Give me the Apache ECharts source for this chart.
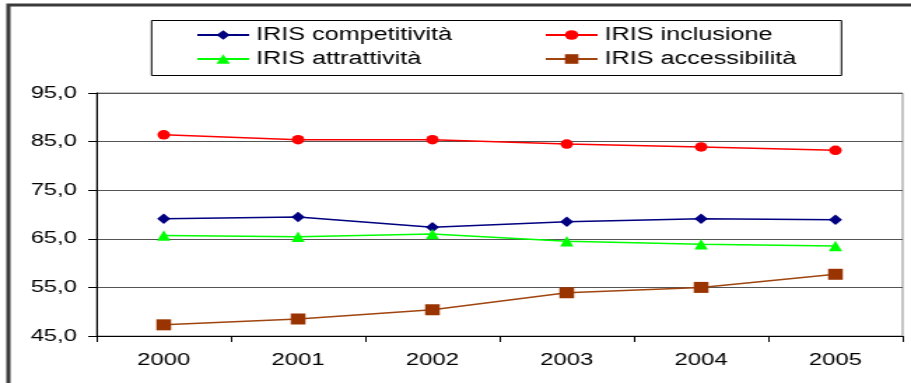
<!DOCTYPE html>
<html>
<head>
<meta charset="utf-8">
<script src="https://cdn.jsdelivr.net/npm/echarts@6/dist/echarts.min.js"></script>
<style>
  html, body { margin: 0; padding: 0; background: #fff; overflow: hidden; }
  /* the chart is laid out narrow and widened horizontally for its wide-lettered look */
  #chart {
    width: 651px; height: 383px;
    transform: scaleX(1.3994); transform-origin: 0 0;
  }
</style>
</head>
<body>
<div id="chart"></div>
<script>
// Years on the horizontal axis
const years = ['2000', '2001', '2002', '2003', '2004', '2005'];

// IRIS index values per year
const competitivita = [69.1, 69.5, 67.4, 68.5, 69.1, 68.9];
const inclusione = [86.4, 85.4, 85.4, 84.5, 83.9, 83.2];
const attrattivita = [65.7, 65.4, 66.0, 64.5, 63.9, 63.5];
const accessibilita = [47.3, 48.5, 50.4, 53.9, 55.0, 57.7];

const seriesNames = ['IRIS competitività', 'IRIS inclusione', 'IRIS attrattività', 'IRIS accessibilità'];

const FONT = 'Liberation Sans, Arial, sans-serif';

function lineSeries(name, data, color, symbol, size, lineColor) {
  return {
    name: name,
    type: 'line',
    data: data,
    symbol: symbol,
    symbolSize: size,
    showSymbol: true,
    animation: false,
    itemStyle: { color: color, borderWidth: 0 },
    lineStyle: { color: lineColor || color, width: 1.5 }
  };
}

const legendText = { fontFamily: FONT, fontSize: 18, color: '#000' };

const chart = echarts.init(document.getElementById('chart'), null, { renderer: 'canvas' });

chart.setOption({
  backgroundColor: '#ffffff',
  animation: false,
  grid: {
    left: 69, right: 6, top: 93, bottom: 47,
    show: true, borderColor: '#8c8c8c', borderWidth: 1
  },
  legend: [
    {
      data: [seriesNames[0], seriesNames[2]],
      orient: 'vertical',
      left: 135, top: 21,
      itemWidth: 37, itemHeight: 12, itemGap: 6,
      textStyle: legendText
    },
    {
      data: [seriesNames[1], seriesNames[3]],
      orient: 'vertical',
      left: 384, top: 21,
      itemWidth: 37, itemHeight: 12, itemGap: 6,
      textStyle: legendText
    }
  ],
  xAxis: {
    type: 'category',
    data: years,
    boundaryGap: true,
    axisLine: { lineStyle: { color: '#000', width: 1 } },
    axisTick: { show: true, length: 6, lineStyle: { color: '#000' } },
    axisLabel: { fontFamily: FONT, fontSize: 17, color: '#000', margin: 16 },
    splitLine: { show: false }
  },
  yAxis: {
    type: 'value',
    min: 45, max: 95, interval: 10,
    axisLine: { show: true, lineStyle: { color: '#000', width: 1 } },
    axisTick: { show: true, length: 6, lineStyle: { color: '#000' } },
    axisLabel: {
      fontFamily: FONT, fontSize: 17, color: '#000', margin: 14,
      formatter: v => v.toFixed(1).replace('.', ',')
    },
    splitLine: { show: true, lineStyle: { color: '#555', width: 1 } }
  },
  series: [
    lineSeries(seriesNames[0], competitivita, '#000080', 'diamond', [9.5, 10.5]),
    lineSeries(seriesNames[1], inclusione, '#ff0000', 'circle', [9, 9.5]),
    lineSeries(seriesNames[2], attrattivita, '#00ff00', 'triangle', [9.5, 10.5]),
    lineSeries(seriesNames[3], accessibilita, '#993300', 'rect', [10.5, 11], '#a0450f')
  ],
  graphic: [
    // outer chart frame
    {
      type: 'rect', silent: true, z: -1,
      shape: { x: 6, y: 5, width: 700, height: 420 },
      style: { fill: null, stroke: '#3a3a3a', lineWidth: 3 }
    },
    // legend frame
    {
      type: 'rect', silent: true, z: -1,
      shape: { x: 108.3, y: 20.5, width: 493, height: 55 },
      style: { fill: '#fff', stroke: '#000', lineWidth: 1 }
    }
  ]
});
</script>
</body>
</html>
